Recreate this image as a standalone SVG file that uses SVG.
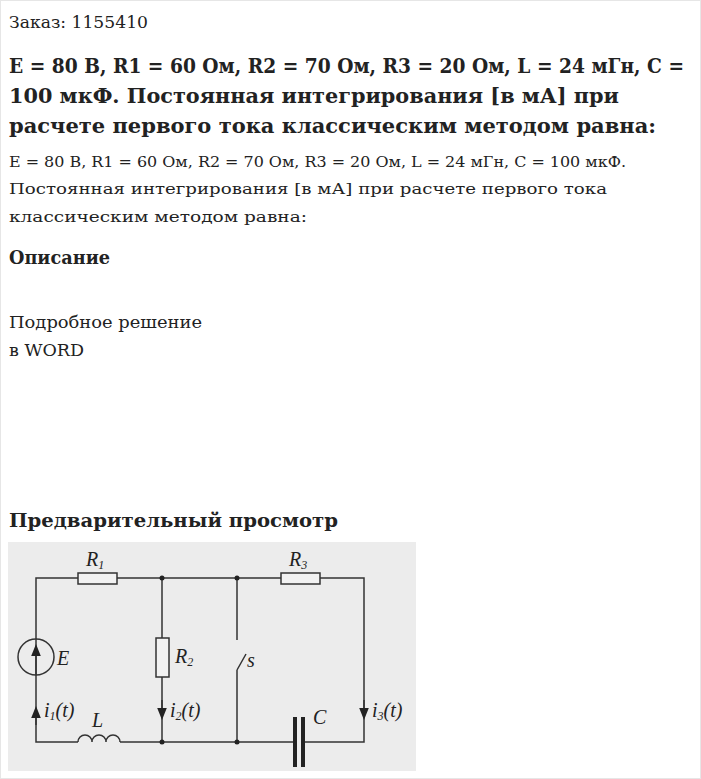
<svg xmlns="http://www.w3.org/2000/svg" width="701" height="779" viewBox="0 0 701 779">
<style>
.t{font-family:"Roboto Slab","DejaVu Serif","Liberation Serif",serif;fill:#222}
.w{stroke:#333;stroke-width:1.5;fill:none}
.l{font-family:"Liberation Serif",serif;font-style:italic;font-size:20px;fill:#222}
.s{font-family:"Liberation Serif",serif;font-style:italic;font-size:12px;fill:#222}
</style>
<defs><marker id="a" viewBox="0 0 10 10" refX="5" refY="5" markerWidth="8" markerHeight="8" orient="auto"><path d="M0,1 L10,5 L0,9z" fill="#222"/></marker></defs>
<rect width="701" height="779" fill="#fff"/>
<rect x="0.5" y="0.5" width="700" height="778" fill="none" stroke="#e6e6e6"/>
<g id="text">
<text class="t" x="9" y="28" font-size="16" textLength="139" lengthAdjust="spacingAndGlyphs">Заказ: 1155410</text>
<g font-weight="bold" font-size="21">
<text class="t" x="9" y="73" textLength="675" lengthAdjust="spacingAndGlyphs">E = 80 В, R1 = 60 Ом, R2 = 70 Ом, R3 = 20 Ом, L = 24 мГн, C =</text>
<text class="t" x="9" y="103" textLength="610" lengthAdjust="spacingAndGlyphs">100 мкФ. Постоянная интегрирования [в мА] при</text>
<text class="t" x="9" y="133" textLength="647" lengthAdjust="spacingAndGlyphs">расчете первого тока классическим методом равна:</text>
</g>
<text class="t" x="9" y="167" font-size="15" textLength="617" lengthAdjust="spacingAndGlyphs">E = 80 В, R1 = 60 Ом, R2 = 70 Ом, R3 = 20 Ом, L = 24 мГн, C = 100 мкФ.</text>
<text class="t" x="9" y="194" font-size="15" textLength="598" lengthAdjust="spacingAndGlyphs">Постоянная интегрирования [в мА] при расчете первого тока</text>
<text class="t" x="9" y="222" font-size="15" textLength="298" lengthAdjust="spacingAndGlyphs">классическим методом равна:</text>
<text class="t" x="9" y="264" font-size="18" font-weight="bold" textLength="101" lengthAdjust="spacingAndGlyphs">Описание</text>
<text class="t" x="9" y="328" font-size="16" textLength="193" lengthAdjust="spacingAndGlyphs">Подробное решение</text>
<text class="t" x="9" y="356" font-size="16" textLength="75" lengthAdjust="spacingAndGlyphs">в WORD</text>
<text class="t" x="9" y="527" font-size="19" font-weight="bold" textLength="329" lengthAdjust="spacingAndGlyphs">Предварительный просмотр</text>
</g>
<rect x="8" y="542" width="408" height="229" fill="#ececec"/>
<g id="connectors">
<path class="w" d="M78,578 H36 V742 H78 M117,578 H281 M320,578 H364 V742 H303 M294,742 H120 M162,578 V638 M162,677 V742 M237,578 V640 M237,670 V742 M237,670 L246,654"/>
<path class="w" d="M78,742 a7,7 0 0 1 14,0 a7,7 0 0 1 14,0 a7,7 0 0 1 14,0"/>
<path class="w" d="M36,725 V712" marker-end="url(#a)"/>
<path class="w" d="M162,700 V714" marker-end="url(#a)"/>
<path class="w" d="M364,700 V714" marker-end="url(#a)"/>
<circle cx="162" cy="578" r="2.5" fill="#222"/><circle cx="237" cy="578" r="2.5" fill="#222"/>
<circle cx="162" cy="742" r="2.5" fill="#222"/><circle cx="237" cy="742" r="2.5" fill="#222"/>
</g>
<g id="R1"><rect x="78" y="573" width="39" height="11" fill="#f2f2f2" stroke="#333" stroke-width="1.5"/><text class="l" x="86" y="566">R<tspan class="s" dy="3">1</tspan></text></g>
<g id="R3"><rect x="281" y="573" width="39" height="11" fill="#f2f2f2" stroke="#333" stroke-width="1.5"/><text class="l" x="289" y="566">R<tspan class="s" dy="3">3</tspan></text></g>
<g id="R2"><rect x="156" y="638" width="13" height="39" fill="#f2f2f2" stroke="#333" stroke-width="1.5"/><text class="l" x="175" y="663">R<tspan class="s" dy="3">2</tspan></text></g>
<g id="E"><circle cx="36" cy="657" r="18" fill="none" stroke="#333" stroke-width="1.5"/><path class="w" d="M36,675 V650" marker-end="url(#a)"/><text class="l" x="57" y="665">E</text></g>
<g id="S"><text class="l" x="247" y="667" font-size="17">s</text></g>
<g id="C"><rect x="293" y="717" width="4" height="50" fill="#222"/><rect x="301" y="717" width="4" height="50" fill="#222"/><text class="l" x="313" y="724">C</text></g>
<g id="L"><text class="l" x="92" y="727">L</text></g>
<text class="l" x="44" y="717">i<tspan class="s" dy="3">1</tspan><tspan dy="-3">(t)</tspan></text>
<text class="l" x="170" y="717">i<tspan class="s" dy="3">2</tspan><tspan dy="-3">(t)</tspan></text>
<text class="l" x="372" y="717">i<tspan class="s" dy="3">3</tspan><tspan dy="-3">(t)</tspan></text>
</svg>
